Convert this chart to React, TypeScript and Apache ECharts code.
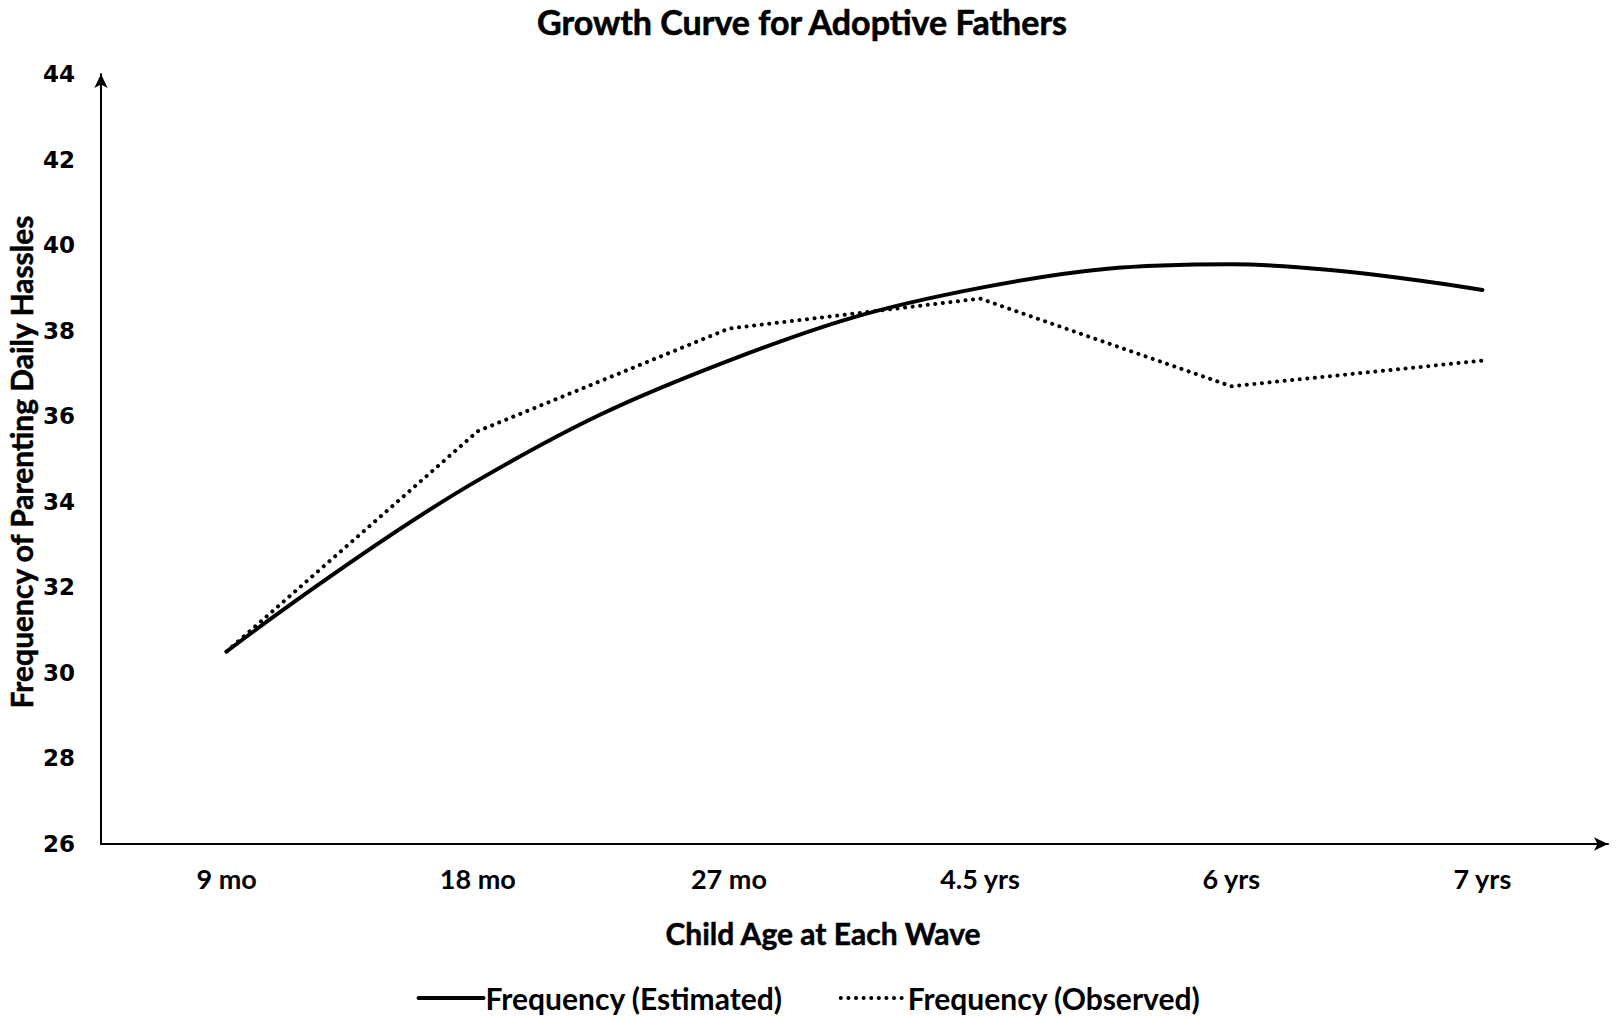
import React, { useEffect, useRef } from "react";
import * as echarts from "echarts";

const categories = ["9 mo", "18 mo", "27 mo", "4.5 yrs", "6 yrs", "7 yrs"];
const estimated = [30.5, 34.5, 37.3, 39.0, 39.55, 38.95];
const observed = [30.5, 35.65, 38.05, 38.75, 36.7, 37.3];
const yMin = 26;
const yMax = 44;
const yStep = 2;

const chartTitle = "Growth Curve for Adoptive Fathers";
const xTitle = "Child Age at Each Wave";
const yTitle = "Frequency of Parenting Daily Hassles";
const seriesNames = ["Frequency (Estimated)", "Frequency (Observed)"];

export default function App() {
  const ref = useRef<HTMLDivElement>(null);
  useEffect(() => {
    const chart = echarts.init(ref.current!, null, { renderer: "svg" });
    const narrow = 'Lato, "Open Sans", sans-serif';
    const wide = '"DejaVu Sans", Verdana, sans-serif';
    const solidStyle = { color: "#000", width: 4, cap: "round" };
    const dotStyle = { color: "#000", width: 4, type: [0.1, 7.5], cap: "round" };
    chart.setOption({
      animation: false,
      backgroundColor: "#ffffff",
      grid: { left: 101, right: 9, top: 74, bottom: 173, containLabel: false },
      graphic: [
        {
          type: "text",
          x: 802,
          y: 21,
          style: {
            text: chartTitle,
            align: "center",
            verticalAlign: "middle",
            fontFamily: narrow,
            fontWeight: "bold",
            fontSize: 34,
            fill: "#000",
            stroke: "#000",
            lineWidth: 0.6,
          },
        },
        {
          type: "text",
          x: 823,
          y: 933,
          style: {
            text: xTitle,
            align: "center",
            verticalAlign: "middle",
            fontFamily: narrow,
            fontWeight: "bold",
            fontSize: 30,
            fill: "#000",
            stroke: "#000",
            lineWidth: 0.5,
          },
        },
        {
          type: "text",
          x: 21,
          y: 462,
          rotation: Math.PI / 2,
          style: {
            text: yTitle,
            align: "center",
            verticalAlign: "middle",
            fontFamily: narrow,
            fontWeight: "bold",
            fontSize: 30,
            fill: "#000",
            stroke: "#000",
            lineWidth: 0.5,
          },
        },
      ],
      legend: {
        left: "center",
        top: 978,
        itemWidth: 65,
        itemHeight: 14,
        itemGap: 56,
        itemStyle: { opacity: 0 },
        data: [
          { name: seriesNames[0], lineStyle: solidStyle },
          { name: seriesNames[1], lineStyle: dotStyle },
        ],
        textStyle: {
          fontFamily: narrow,
          fontWeight: "bold",
          fontSize: 30,
          lineHeight: 30,
          color: "#000",
          padding: [0, 0, 0, -3],
        },
      },
      xAxis: {
        type: "category",
        data: categories,
        boundaryGap: true,
        axisLine: {
          lineStyle: { color: "#000", width: 2 },
          symbol: ["none", "arrow"],
          symbolSize: [10, 14],
        },
        axisTick: { show: false },
        axisLabel: {
          margin: 21,
          fontFamily: narrow,
          fontWeight: "bold",
          fontSize: 27,
          color: "#000",
        },
        splitLine: { show: false },
      },
      yAxis: {
        type: "value",
        min: yMin,
        max: yMax,
        interval: yStep,
        axisLine: {
          show: true,
          lineStyle: { color: "#000", width: 2 },
          symbol: ["none", "arrow"],
          symbolSize: [10, 14],
        },
        axisTick: { show: false },
        axisLabel: {
          margin: 26,
          fontFamily: wide,
          fontWeight: "bold",
          fontSize: 23,
          color: "#000",
        },
        splitLine: { show: false },
      },
      series: [
        {
          name: seriesNames[0],
          type: "line",
          data: estimated,
          smooth: 0.4,
          symbol: "none",
          lineStyle: solidStyle,
          itemStyle: { color: "#000" },
        },
        {
          name: seriesNames[1],
          type: "line",
          data: observed,
          smooth: false,
          symbol: "none",
          lineStyle: dotStyle,
          itemStyle: { color: "#000" },
        },
      ],
    });
    return () => chart.dispose();
  }, []);
  return (
    <div
      ref={ref}
      style={{ position: "fixed", left: 0, top: 0, width: 1617, height: 1017 }}
    />
  );
}
